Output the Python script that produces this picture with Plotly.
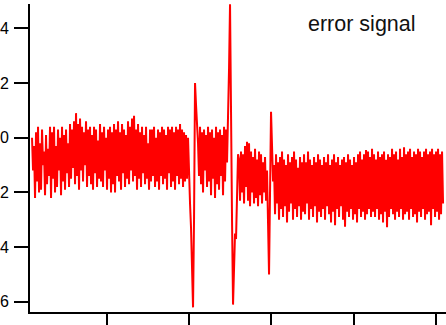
import numpy as np
import plotly.graph_objects as go

# sample timing (arbitrary time units, ticks every 1 unit)
t_start = 0.093
t_step = 0.012146

# error signal
baseline_before = [
    0.0, -1.2, -0.3, -2.2, 0.2, -1.6, 0.4, -2.0, -0.2, -1.9,
    0.3, -1.0, -0.5, -2.1, 0.1, -1.7, -0.4, -1.4, 0.4, -2.2,
    0.2, -1.5, 0.4, -2.0, -0.3, -1.8, 0.3, -1.2, 0.0, -2.1,
    0.4, -1.6, 0.1, -1.9, 0.3, -1.3, -0.2, -1.8, 0.5, -1.5,
    0.3, -1.1, 0.6, -1.7, 0.9, -1.4, 0.5, -1.9, 0.7, -1.2,
    0.4, -1.6, 0.2, -1.0, 0.6, -1.8, 0.3, -1.4, 0.4, -1.7,
    0.1, -1.9, 0.4, -1.3, 0.3, -1.8, -0.1, -1.5, 0.5, -1.6,
    0.2, -1.8, 0.4, -1.2, 0.0, -1.9, 0.3, -1.5, 0.4, -2.0,
    0.2, -1.7, 0.5, -2.0, 0.3, -1.4, 0.6, -1.6, 0.2, -1.9,
    0.5, -1.3, 0.3, -1.8, 0.1, -1.5, 0.6, -1.7, 0.4, -1.2,
    0.7, -1.6, 0.8, -1.4, 0.3, -1.9, 0.5, -1.5, 0.2, -1.8,
    0.4, -1.3, 0.1, -1.7, 0.4, -1.5, -0.2, -1.9, 0.3, -1.6,
    0.3, -1.4, 0.4, -1.8, 0.0, -1.6, 0.3, -1.9, 0.2, -1.4,
    0.4, -1.7, 0.3, -1.5, 0.1, -1.9, 0.4, -1.3, 0.3, -1.8,
    0.4, -1.6, 0.2, -1.9, 0.4, -1.4, 0.3, -1.7, 0.5, -1.5,
    0.3, -1.8, 0.2, -1.6, 0.1, -1.5, 0.0, -1.9,
]
feature_1 = [-2.4, -3.3, -5.0, -6.2, -3.0, 2.0, 1.2, 0.6]
baseline_mid = [
    -0.2, -1.4, 0.4, -1.7, 0.2, -2.0, 0.3, -1.2, 0.1, -1.8,
    0.4, -1.6, 0.2, -2.1, 0.3, -1.5, 0.0, -2.2, 0.4, -1.7,
    0.2, -1.9, 0.3, -1.4, 0.1, -2.1, 0.4, -1.6, 0.3, -0.9,
]
feature_2 = [0.5, 2.5, 4.88, 2.0, -3.0, -6.1, -4.5, -3.5, -3.7, -1.5, -0.6]
baseline_between = [
    -0.8, -2.3, -0.5, -2.0, -0.6, -2.4, -0.3, -1.8, -0.15, -2.3,
    -0.2, -2.5, -0.5, -2.0, -0.7, -2.4, -0.4, -2.2, -0.8, -2.5,
    -0.5, -2.1, -0.6, -2.4, -0.9, -2.0, -0.7, -2.3,
]
feature_3 = [-1.2, -3.5, -5.0, -2.0, 0.95, -0.3, -1.6]
baseline_after = [
    -1.0, -2.8, -0.6, -2.4, -0.9, -3.0, -0.7, -2.6, -0.5, -2.9,
    -0.8, -2.5, -1.0, -3.1, -0.6, -2.7, -0.9, -2.4, -0.7, -3.0,
    -0.5, -2.6, -0.8, -2.9, -1.1, -2.5, -0.7, -3.0, -0.9, -2.7,
    -0.6, -2.8, -0.9, -2.4, -0.5, -3.0, -0.8, -2.6, -1.0, -2.9,
    -0.7, -2.5, -0.9, -3.1, -0.6, -2.7, -0.8, -2.9, -1.0, -2.6,
    -0.7, -3.0, -0.9, -2.5, -0.6, -2.8, -1.0, -3.1, -0.8, -2.7,
    -0.6, -3.2, -0.9, -2.6, -0.7, -2.9, -1.0, -2.5, -0.8, -3.0,
    -0.7, -3.25, -0.9, -2.7, -0.6, -2.9, -0.8, -2.6, -1.0, -3.0,
    -0.7, -2.8, -0.9, -3.1, -0.6, -2.6, -0.5, -2.9, -0.8, -2.7,
    -0.6, -3.0, -0.45, -2.8, -0.5, -2.6, -0.7, -2.9, -0.4, -2.7,
    -0.6, -2.9, -0.8, -2.6, -0.5, -3.0, -0.7, -2.8, -0.6, -3.1,
    -0.5, -2.7, -0.8, -3.27, -0.6, -2.9, -0.7, -2.6, -0.4, -2.8,
    -0.6, -3.0, -0.5, -2.7, -0.8, -2.9, -0.4, -2.6, -0.7, -3.0,
    -0.35, -2.8, -0.6, -2.7, -0.5, -3.0, -0.4, -2.6, -0.7, -2.9,
    -0.5, -2.8, -0.6, -3.1, -0.4, -2.7, -0.5, -2.9, -0.7, -2.6,
    -0.5, -3.0, -0.4, -2.8, -0.6, -2.7, -0.5, -3.2, -0.4, -2.6,
    -0.6, -2.9, -0.5, -2.7, -0.4, -3.0, -0.6, -2.8, -0.5, -2.4,
]

y_ticks = [-6, -4, -2, 0, 2, 4]
x_ticks = [1, 2, 3, 4, 5]
label_text = "error signal"

signal = (baseline_before + feature_1 + baseline_mid + feature_2
          + baseline_between + feature_3 + baseline_after)
t = t_start + t_step * np.arange(len(signal))

fig = go.Figure()
fig.add_trace(go.Scatter(
    x=t, y=signal, mode="lines",
    line=dict(color="#ff0000", width=2),
    showlegend=False, hoverinfo="skip",
))

axis_common = dict(
    showgrid=False, zeroline=False,
    showline=True, linecolor="#000000", linewidth=2,
    ticks="outside", ticklen=14, tickwidth=2, tickcolor="#000000",
)
fig.update_xaxes(range=[0.0684, 5.121], tickvals=x_ticks,
                 showticklabels=False, automargin=False, **axis_common)
fig.update_yaxes(range=[-6.37, 4.89], tickvals=y_ticks,
                 tickfont=dict(family="Liberation Sans, Arial", size=16, color="#000000"),
                 ticklabelstandoff=2, automargin=False, **axis_common)

fig.add_annotation(
    text=label_text, xref="paper", yref="paper",
    x=0.797, y=0.935, xanchor="center", yanchor="middle",
    showarrow=False,
    font=dict(family="Liberation Sans, Arial", size=21.5, color="#111111"),
)

fig.update_layout(
    width=446, height=325,
    margin=dict(l=30, r=0, t=4, b=13, pad=0),
    paper_bgcolor="#ffffff", plot_bgcolor="#ffffff",
)

fig.write_html(
    "out.html",
    config={"displayModeBar": False, "staticPlot": True},
    post_script="document.body.style.margin='0';document.body.style.overflow='hidden';",
)
